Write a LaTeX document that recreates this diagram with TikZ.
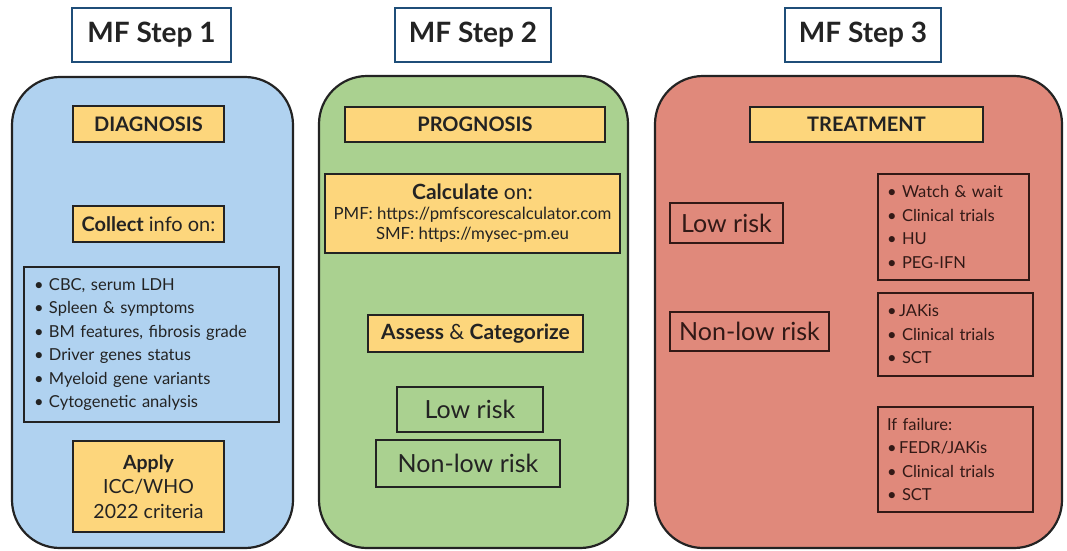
\documentclass[tikz,border=0pt]{standalone}
\usepackage{fontspec}
\setmainfont{Lato}
\definecolor{pblue}{RGB}{176,210,240}
\definecolor{pgreen}{RGB}{170,209,144}
\definecolor{pred}{RGB}{224,137,123}
\definecolor{gold}{RGB}{253,214,124}
\definecolor{tblue}{RGB}{31,78,121}
\definecolor{ink}{RGB}{35,35,35}
\definecolor{rink}{RGB}{50,25,22}
\newcommand\itm{\makebox[15pt][l]{\textbullet}}
\tikzset{
  panel/.style={draw=ink, line width=2.2pt, rounded corners=48pt},
  titlebox/.style={draw=tblue, fill=white, line width=2.6pt, font=\fontsize{28}{32}\selectfont\bfseries, text=ink, inner sep=0pt},
  head/.style={draw=ink, fill=gold, line width=2pt, font=\fontsize{20}{24}\selectfont\bfseries, text=ink, inner sep=0pt},
  gbox/.style={draw=ink, fill=gold, line width=2pt, font=\fontsize{20}{24}\selectfont, text=ink, inner sep=0pt, align=center},
  lbox/.style={draw=ink, line width=2pt, font=\fontsize{16.5}{23.5}\selectfont, text=ink, inner xsep=10pt, inner ysep=0pt, align=left},
  rbox/.style={draw=ink, line width=2pt, font=\fontsize{25}{28}\selectfont, text=ink, inner sep=0pt},
  rlbox/.style={draw=rink, line width=2pt, font=\fontsize{16.5}{23.5}\selectfont, text=rink, inner xsep=9pt, inner ysep=0pt, align=left},
}
\begin{document}
\begin{tikzpicture}[x=1pt,y=1pt]
\useasboundingbox (0,0) rectangle (1067,-550);
% panels
\draw[panel, fill=pblue] (12,-77) rectangle (293,-548);
\draw[panel, fill=pgreen] (319,-76) rectangle (628,-548);
\draw[panel, fill=pred] (655,-76) rectangle (1062,-548);
% titles
\node[titlebox, minimum width=159pt, minimum height=54pt] (t1) at (151.5,-35) {MF Step 1};
\node[titlebox, minimum width=156pt, minimum height=54pt] (t2) at (473,-35) {MF Step 2};
\node[titlebox, minimum width=156pt, minimum height=54pt] (t3) at (863,-35) {MF Step 3};
% step 1
\node[head, minimum width=151pt, minimum height=36pt] (diag) at (148.5,-124) {DIAGNOSIS};
\node[gbox, minimum width=151pt, minimum height=36pt] (coll) at (148.5,-224) {\textbf{Collect} info on:};
\node[lbox, minimum width=255pt, minimum height=155pt, text width=235pt] (info) at (151.5,-344.5) {\itm CBC, serum LDH\\ \itm Spleen \& symptoms\\ \itm BM features, fibrosis grade\\ \itm Driver genes status\\ \itm Myeloid gene variants\\ \itm Cytogenetic analysis};
\node[gbox, minimum width=151pt, minimum height=91pt, font=\fontsize{19.5}{24.5}\selectfont] (apply) at (148.5,-486.5) {\textbf{Apply}\\ ICC/WHO\\ 2022 criteria};
% step 2
\node[head, minimum width=260pt, minimum height=35pt] (prog) at (475,-124.5) {PROGNOSIS};
\node[gbox, minimum width=295pt, minimum height=79pt, font=\fontsize{16.8}{20}\selectfont] (calc) at (472.5,-213.5) {{\fontsize{21}{22}\selectfont\textbf{Calculate} on:}\\ PMF: https://pmfscorescalculator.com\\ SMF: https://mysec-pm.eu};
\node[gbox, minimum width=215pt, minimum height=37pt, font=\fontsize{21}{24}\selectfont] (assess) at (475.5,-333.5) {\textbf{Assess} \& \textbf{Categorize}};
\node[rbox, minimum width=146pt, minimum height=45pt] (glow) at (470,-409.5) {Low risk};
\node[rbox, minimum width=184pt, minimum height=47pt] (gnon) at (468,-463.5) {Non-low risk};
% step 3
\node[head, minimum width=233pt, minimum height=35pt] (treat) at (866.5,-124.5) {TREATMENT};
\node[rbox, draw=rink, text=rink, minimum width=113pt, minimum height=40pt] (rlow) at (726.5,-223) {Low risk};
\node[rbox, draw=rink, text=rink, minimum width=159pt, minimum height=39pt] (rnon) at (749.5,-331.5) {Non-low risk};
\node[rlbox, minimum width=151pt, minimum height=106pt, text width=133pt] (tr1) at (953.5,-227) {\itm Watch \& wait\\ \itm Clinical trials\\ \itm HU\\ \itm PEG-IFN};
\node[rlbox, minimum width=155pt, minimum height=83pt, text width=137pt] (tr2) at (955.5,-334.5) {\makebox[12pt][l]{\textbullet}JAKis\\ \itm Clinical trials\\ \itm SCT};
\node[rlbox, minimum width=155pt, minimum height=105pt, text width=137pt] (tr3) at (955.5,-459.5) {If failure:\\ \makebox[12pt][l]{\textbullet}FEDR/JAKis\\ \itm Clinical trials\\ \itm SCT};
\end{tikzpicture}
\end{document}
